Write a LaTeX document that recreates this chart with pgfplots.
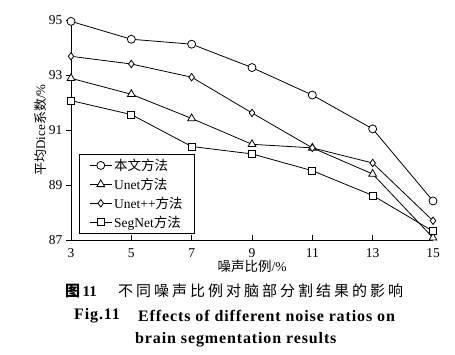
\documentclass[border=0pt]{standalone}
\usepackage{fontspec}
\usepackage{pgfplots}
\pgfplotsset{compat=1.18}
\setmainfont{Liberation Serif}
\newfontfamily\cjk{Noto Sans CJK SC}
\newfontfamily\cjkcap[LetterSpace=20]{Noto Sans CJK SC}
\newfontfamily\capserif[LetterSpace=5.5]{Liberation Serif}

\begin{document}
\begin{tikzpicture}
\path[use as bounding box] (0,0) rectangle (455pt,355pt);
\begin{axis}[
  at={(71pt,115pt)}, anchor=south west,
  scale only axis, width=362pt, height=220pt,
  xmin=3, xmax=15, ymin=87, ymax=95,
  axis lines=left, axis line style={-, line width=0.8pt},
  xtick={3,5,...,15}, ytick={87,89,...,95},
  tick align=outside,
  major tick length=5pt,
  xtick style={yshift=5pt, line width=0.8pt, black},
  ytick style={line width=0.8pt, black},
  tick label style={font=\fontsize{13.5}{13.5}\selectfont},
  /pgf/number format/assume math mode=true,
  clip=false,
  xlabel={{\cjk 噪声比例}/\%},
  xlabel style={at={(axis description cs:0.5,-0.12)}, anchor=center, font=\fontsize{13.5}{13.5}\selectfont},
  ylabel={{\cjk 平均}Dice{\cjk 系数}/\%},
  ylabel style={at={(axis description cs:-0.085,0.5)}, anchor=center, font=\fontsize{13}{13}\selectfont},
  legend style={at={(axis description cs:0.022,0.027)}, anchor=south west, draw=black, line width=0.8pt,
    font=\fontsize{13.5}{13.5}\selectfont, row sep=2pt, inner xsep=10pt, inner ysep=3pt},
  legend cell align=left,
  legend image code/.code={\draw[mark repeat=2,mark phase=2] plot coordinates {(0pt,0pt)(11pt,0pt)(22pt,0pt)};},
  every axis plot/.append style={black, line width=0.8pt},
]
\addplot[mark=*, mark size=4pt, mark options={fill=white}] coordinates {
  (3,94.95) (5,94.3) (7,94.12) (9,93.27) (11,92.27) (13,91.04) (15,88.42)};
\addlegendentry{{\cjk 本文方法}}
\addplot[mark=triangle*, mark size=4.5pt, mark options={fill=white}] coordinates {
  (3,92.88) (5,92.3) (7,91.42) (9,90.48) (11,90.35) (13,89.4) (15,87.08)};
\addlegendentry{Unet{\cjk 方法}}
\addplot[mark=diamond*, mark size=3.7pt, mark options={fill=white}] coordinates {
  (3,93.68) (5,93.4) (7,92.92) (9,91.62) (11,90.35) (13,89.8) (15,87.7)};
\addlegendentry{Unet++{\cjk 方法}}
\addplot[mark=square*, mark size=3.5pt, mark options={fill=white}] coordinates {
  (3,92.07) (5,91.56) (7,90.4) (9,90.13) (11,89.52) (13,88.62) (15,87.32)};
\addlegendentry{SegNet{\cjk 方法}}
\end{axis}
\node[anchor=west, inner sep=0pt] at (65pt,64pt) {\fontsize{15}{15}\selectfont{\cjk\bfseries 图}\,\textbf{11}};
\node[anchor=west, inner sep=0pt] at (118pt,64pt) {\fontsize{15}{15}\selectfont\cjkcap 不同噪声比例对脑部分割结果的影响};
\node[anchor=west, inner sep=0pt] at (74pt,39pt) {\fontsize{16}{16}\selectfont\capserif\bfseries Fig.11};
\node[anchor=west, inner sep=0pt] at (138pt,39pt) {\fontsize{16}{16}\selectfont\capserif\bfseries Effects of different noise ratios on};
\node[anchor=west, inner sep=0pt] at (135pt,15pt) {\fontsize{16}{16}\selectfont\capserif\bfseries brain segmentation results};
\end{tikzpicture}
\end{document}
